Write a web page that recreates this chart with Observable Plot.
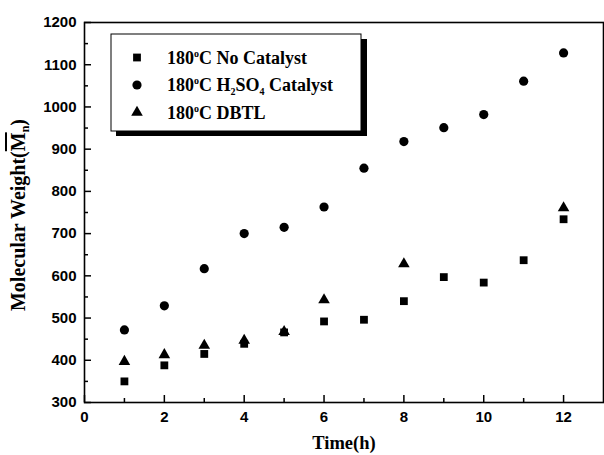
<!DOCTYPE html>
<html><head><meta charset="utf-8">
<script src="https://cdn.jsdelivr.net/npm/d3@7"></script>
<script src="https://cdn.jsdelivr.net/npm/@observablehq/plot@0.6"></script>
<style>html,body{margin:0;padding:0;background:#fff}</style>
</head><body><div id="chart"></div>
<script>
const times = [1, 2, 3, 4, 5, 6, 7, 8, 9, 10, 11, 12];
const noCatalyst = [350, 388, 415, 439, 466, 492, 496, 540, 597, 584, 637, 734];
const h2so4 = [472, 529, 617, 700, 715, 763, 855, 918, 951, 982, 1061, 1128];
const dbtlTimes = [1, 2, 3, 4, 5, 6, 8, 12];
const dbtl = [397, 413, 435, 447, 468, 543, 628, 761];
const xMajor = [0, 2, 4, 6, 8, 10, 12];
const xMinor = [1, 3, 5, 7, 9, 11];
const yMajor = [300, 400, 500, 600, 700, 800, 900, 1000, 1100, 1200];
const yMinor = [350, 450, 550, 650, 750, 850, 950, 1050, 1150];
const seriesNames = ["180°C No Catalyst", "180°C H2SO4 Catalyst", "180°C DBTL"];

const sq = times.map((t, i) => ({t, v: noCatalyst[i]}));
const ci = times.map((t, i) => ({t, v: h2so4[i]}));
const tr = dbtlTimes.map((t, i) => ({t, v: dbtl[i]}));
const fmt = d => String(d);

const plot = Plot.plot({
  width: 604, height: 455,
  marginLeft: 84, marginRight: 1, marginTop: 22, marginBottom: 53,
  style: {fontFamily: "'Liberation Sans', Arial, sans-serif", fontSize: "15px", fontWeight: "bold", color: "#000", background: "#fff", overflow: "visible"},
  x: {domain: [0, 13]},
  y: {domain: [300, 1200]},
  marks: [
    Plot.axisX({ticks: xMajor, tickSize: 0, tickPadding: 9, label: null, fontSize: 15, tickFormat: fmt}),
    Plot.axisX({ticks: xMajor, tickSize: -7, text: null, label: null, strokeWidth: 1.5}),
    Plot.axisX({ticks: xMinor, tickSize: -4, text: null, label: null, strokeWidth: 1.5}),
    Plot.axisY({ticks: yMajor, tickSize: 0, tickPadding: 8, label: null, fontSize: 15, tickFormat: fmt}),
    Plot.axisY({ticks: yMajor, tickSize: -7, text: null, label: null, strokeWidth: 1.5}),
    Plot.axisY({ticks: yMinor, tickSize: -4, text: null, label: null, strokeWidth: 1.5}),
    Plot.frame({stroke: "#000", strokeWidth: 1.6}),
    Plot.dot(sq, {x: "t", y: "v", symbol: "square", r: 4.4, fill: "#000", stroke: null}),
    Plot.dot(ci, {x: "t", y: "v", symbol: "circle", r: 4.6, fill: "#000", stroke: null}),
    Plot.dot(tr, {x: "t", y: "v", symbol: "triangle", r: 4.3, fill: "#000", stroke: null})
  ]
});
document.getElementById("chart").appendChild(plot);

const svg = d3.select(plot);
const serif = "'Liberation Serif', 'Times New Roman', serif";

// axis titles
svg.append("text").attr("x", 344).attr("y", 449).attr("text-anchor", "middle")
  .attr("font-family", serif).attr("font-size", 18.5).attr("font-weight", "bold").text("Time(h)");
const yt = svg.append("text").attr("transform", "translate(25,215) rotate(-90)").attr("text-anchor", "middle")
  .attr("font-family", serif).attr("font-size", 20).attr("font-weight", "bold");
yt.append("tspan").text("Molecular Weight(");
yt.append("tspan").attr("text-decoration", "overline").style("text-decoration", "overline").text("M");
yt.append("tspan").attr("font-size", 12).attr("dy", 4).text("n");
yt.append("tspan").attr("dy", -4).text(")");

// legend
const lg = svg.append("g");
lg.append("rect").attr("x", 116).attr("y", 39).attr("width", 251).attr("height", 97).attr("fill", "#000");
lg.append("rect").attr("x", 111).attr("y", 34).attr("width", 250).attr("height", 97).attr("fill", "#fff").attr("stroke", "#000").attr("stroke-width", 1);
const rows = [57.5, 85, 112.5];
const syms = [d3.symbolSquare, d3.symbolCircle, d3.symbolTriangle];
const sizes = [4.4, 4.6, 4.3];
rows.forEach((y, i) => {
  lg.append("path").attr("transform", `translate(137,${y})`)
    .attr("d", d3.symbol(syms[i], Math.PI * sizes[i] * sizes[i])()).attr("fill", "#000");
  const t = lg.append("text").attr("x", 167).attr("y", y + 6).attr("font-family", serif)
    .attr("text-anchor", "start").attr("font-size", 18).attr("font-weight", "bold");
  if (i === 1) {
    t.append("tspan").text("180");
    t.append("tspan").attr("font-size", 10).attr("dy", -7).text("o");
    t.append("tspan").attr("dy", 7).text("C H");
    t.append("tspan").attr("font-size", 10).attr("dy", 4).text("2");
    t.append("tspan").attr("dy", -4).text("SO");
    t.append("tspan").attr("font-size", 10).attr("dy", 4).text("4");
    t.append("tspan").attr("dy", -4).text(" Catalyst");
  } else {
    const rest = seriesNames[i].replace("180°", "");
    t.append("tspan").text("180");
    t.append("tspan").attr("font-size", 10).attr("dy", -7).text("o");
    t.append("tspan").attr("dy", 7).text(rest);
  }
});
</script>
</body></html>
